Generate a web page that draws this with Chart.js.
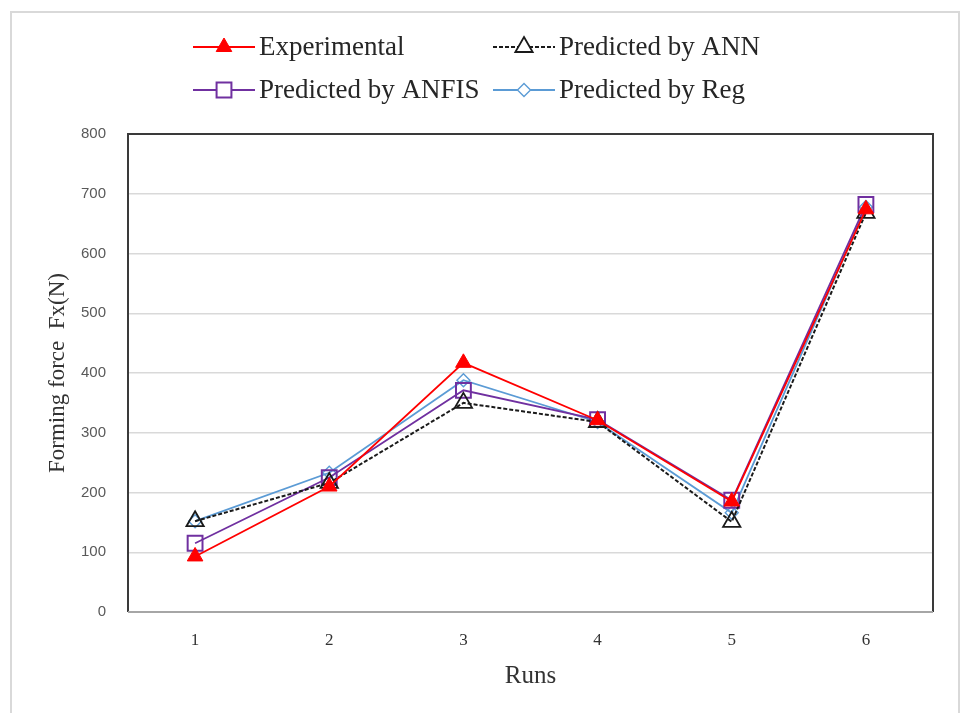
<!DOCTYPE html>
<html>
<head>
<meta charset="utf-8">
<script src="https://cdn.jsdelivr.net/npm/chart.js@4.4.0/dist/chart.umd.min.js"></script>
<style>
html, body { margin: 0; padding: 0; background: #fff; }
#wrap { width: 961px; height: 713px; }
</style>
</head>
<body>
<div id="wrap"><canvas id="chart" width="961" height="713"></canvas></div>
<script>
'use strict';

// values
var runs = ['1', '2', '3', '4', '5', '6'];
var experimental = [93, 210, 417, 321, 185, 674];
var predictedAnn = [152, 216, 350, 318, 151, 668];
var predictedAnfis = [115, 225, 371, 322, 187, 682];
var predictedReg = [152, 233, 388, 318, 166, 678];

// frame + two column legend, drawn by hand
var framePlugin = {
  id: 'frame',
  beforeDraw: function(chart) {
    var ctx = chart.ctx;
    ctx.save();
    ctx.fillStyle = '#fff';
    ctx.fillRect(0, 0, chart.width, chart.height);
    ctx.strokeStyle = '#d9d9d9';
    ctx.lineWidth = 2;
    ctx.strokeRect(11, 12, 948, 720);
    ctx.restore();
  },
  beforeDatasetsDraw: function(chart) {
    var a = chart.chartArea;
    var ctx = chart.ctx;
    ctx.save();
    ctx.lineWidth = 2;
    ctx.strokeStyle = '#3a3a3a';
    ctx.beginPath();
    ctx.moveTo(a.left, a.bottom);
    ctx.lineTo(a.left, a.top);
    ctx.lineTo(a.right, a.top);
    ctx.lineTo(a.right, a.bottom);
    ctx.stroke();
    ctx.strokeStyle = '#a6a6a6';
    ctx.beginPath();
    ctx.moveTo(a.left, a.bottom);
    ctx.lineTo(a.right, a.bottom);
    ctx.stroke();
    ctx.restore();
  },
  afterDraw: function(chart) {
    var ctx = chart.ctx;
    var cols = [193, 493];
    var rows = [47, 90];
    chart.data.datasets.forEach(function(ds, i) {
      var x0 = cols[i % 2];
      var y = rows[Math.floor(i / 2)];
      ctx.save();
      ctx.strokeStyle = ds.borderColor;
      ctx.lineWidth = ds.borderWidth;
      ctx.setLineDash(ds.borderDash || []);
      ctx.beginPath();
      ctx.moveTo(x0, y);
      ctx.lineTo(x0 + 62, y);
      ctx.stroke();
      ctx.setLineDash([]);
      ctx.fillStyle = ds.pointStyle === 'rect' || ds.pointStyle === 'rectRot' || i === 1 ? '#fff' : ds.pointBackgroundColor;
      ctx.strokeStyle = ds.pointBorderColor;
      ctx.lineWidth = ds.pointBorderWidth;
      Chart.helpers.drawPoint(ctx, {
        pointStyle: ds.pointStyle,
        radius: ds.pointRadius,
        borderWidth: ds.pointBorderWidth,
        rotation: 0
      }, x0 + 31, y);
      ctx.fillStyle = '#262626';
      ctx.font = '27px "Liberation Serif"';
      ctx.textBaseline = 'middle';
      ctx.textAlign = 'left';
      ctx.fillText(ds.label, x0 + 66, y + 1);
      ctx.restore();
    });
  }
};

var ctx = document.getElementById('chart');
var chart = new Chart(ctx, {
  type: 'line',
  data: {
    labels: runs,
    datasets: [{
      label: 'Experimental',
      data: experimental,
      borderColor: '#ff0000',
      borderWidth: 1.8,
      pointStyle: 'triangle',
      pointRadius: 9,
      pointBackgroundColor: '#ff0000',
      pointBorderColor: '#ff0000',
      pointBorderWidth: 1
    }, {
      label: 'Predicted by ANN',
      data: predictedAnn,
      borderColor: '#1a1a1a',
      borderWidth: 2,
      borderDash: [4, 2],
      pointStyle: 'triangle',
      pointRadius: 10,
      pointBackgroundColor: 'rgba(255,255,255,0)',
      pointBorderColor: '#1a1a1a',
      pointBorderWidth: 1.8
    }, {
      label: 'Predicted by ANFIS',
      data: predictedAnfis,
      borderColor: '#7030a0',
      borderWidth: 1.8,
      pointStyle: 'rect',
      pointRadius: 10.5,
      pointBackgroundColor: 'rgba(255,255,255,0)',
      pointBorderColor: '#7030a0',
      pointBorderWidth: 2
    }, {
      label: 'Predicted by Reg',
      data: predictedReg,
      borderColor: '#5b9bd5',
      borderWidth: 1.8,
      pointStyle: 'rectRot',
      pointRadius: 6.5,
      pointBackgroundColor: 'rgba(255,255,255,0)',
      pointBorderColor: '#5b9bd5',
      pointBorderWidth: 1.4
    }]
  },
  options: {
    responsive: false,
    animation: false,
    layout: { padding: { left: 0, top: 134, right: 28, bottom: 0 } },
    plugins: {
      legend: { display: false },
      tooltip: { enabled: false }
    },
    scales: {
      x: {
        offset: true,
        grid: { display: false, drawTicks: false },
        border: { display: false },
        ticks: {
          padding: 18,
          color: '#333',
          font: { family: 'Liberation Serif', size: 17 }
        },
        title: {
          display: true,
          text: 'Runs',
          color: '#333',
          font: { family: 'Liberation Serif', size: 25 },
          padding: { top: 0, bottom: 22 }
        },
        afterFit: function(axis) { axis.height = 101; }
      },
      y: {
        min: 0,
        max: 800,
        ticks: {
          stepSize: 100,
          padding: 22,
          color: '#595959',
          font: { family: 'Liberation Sans', size: 15 }
        },
        grid: {
          drawTicks: false,
          color: function(c) {
            return (c.tick.value === 0 || c.tick.value === 800) ? 'rgba(0,0,0,0)' : '#d9d9d9';
          },
          lineWidth: 1.5
        },
        border: { display: false },
        title: {
          display: true,
          text: 'Forming force  Fx(N)',
          color: '#333',
          font: { family: 'Liberation Serif', size: 23 },
          padding: { top: 44, bottom: 0 }
        },
        afterFit: function(axis) { axis.width = 128; }
      }
    }
  },
  plugins: [framePlugin]
});
</script>
</body>
</html>
